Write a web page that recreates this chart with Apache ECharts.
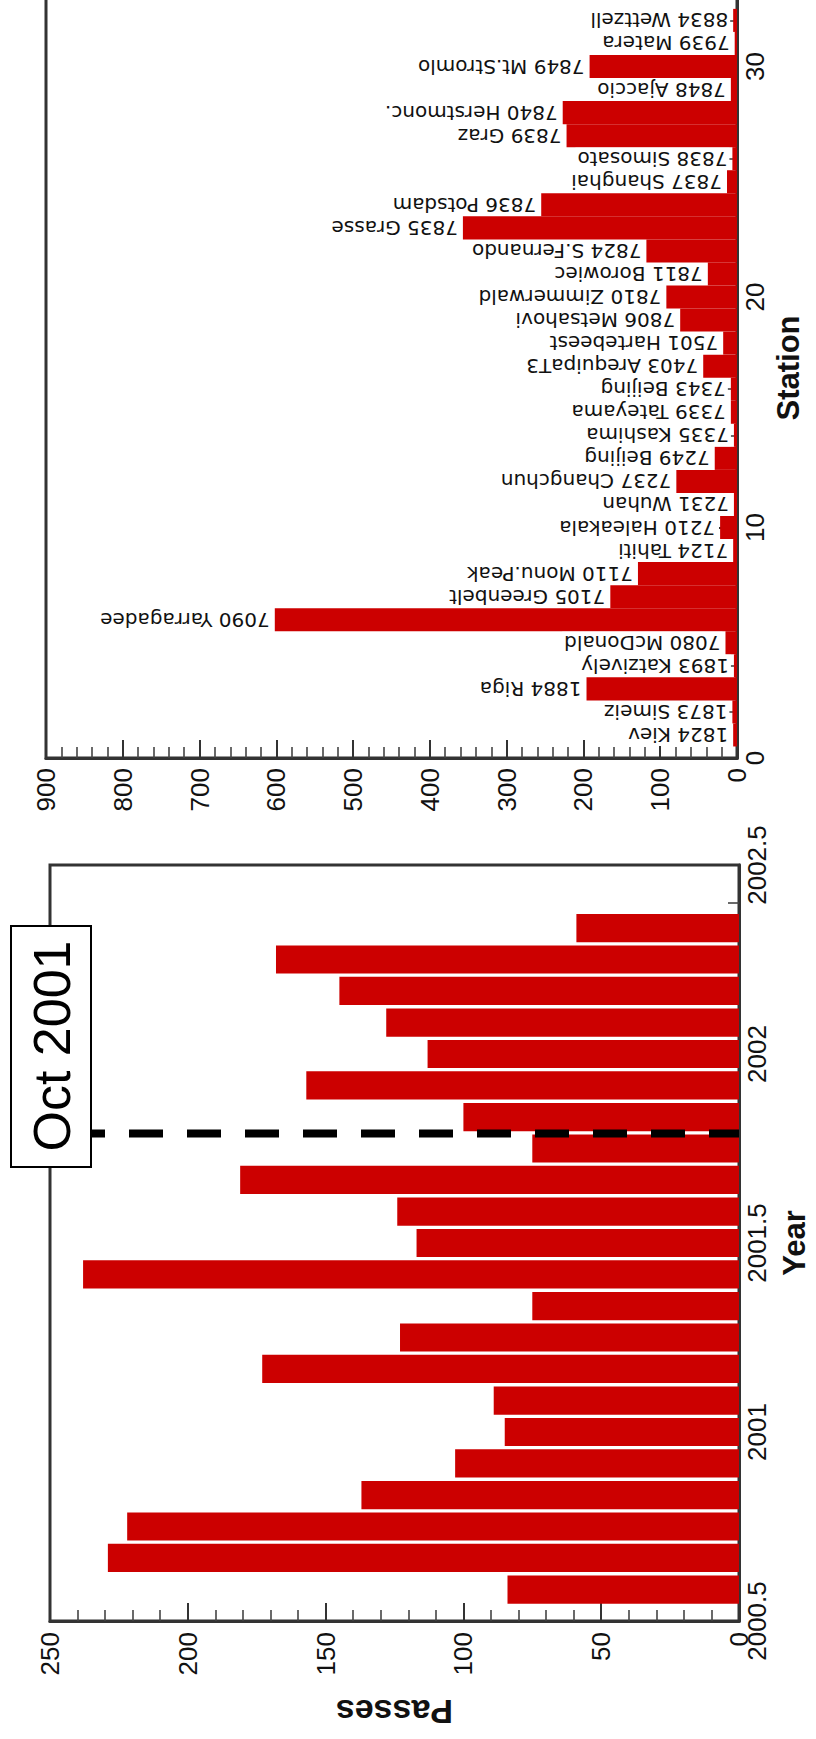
<!DOCTYPE html>
<html>
<head>
<meta charset="utf-8">
<style>
html,body{margin:0;padding:0;background:#fff;}
#c{width:816px;height:1739px;}
</style>
<script src="https://cdn.jsdelivr.net/npm/echarts@6/dist/echarts.min.js"></script>
</head>
<body>
<div id="c"></div>
<script>
// ---- Left panel: passes per month (Year axis) ----
const yearPos = [2000.583, 2000.667, 2000.750, 2000.833, 2000.917, 2001.000, 2001.083, 2001.167,
                 2001.250, 2001.333, 2001.417, 2001.500, 2001.583, 2001.667, 2001.750, 2001.833,
                 2001.917, 2002.000, 2002.083, 2002.167, 2002.250, 2002.333];
const monthlyPasses = [84, 229, 222, 137, 103, 85, 89, 173, 123, 75, 238, 117,
                       124, 181, 75, 100, 157, 113, 128, 145, 168, 59];
const eventYear = 2001.79;
const eventLabel = 'Oct 2001';

// ---- Right panel: passes per station ----
const stationIdx = [1,2,3,4,5,6,7,8,9,10,11,12,13,14,15,16,17,18,19,20,21,22,23,24,25,26,27,28,29,30,31,32];
const stationNames = ['1824 Kiev','1873 Simeiz','1884 Riga','1893 Katzively','7080 McDonald','7090 Yarragadee',
  '7105 Greenbelt','7110 Monu.Peak','7124 Tahiti','7210 Haleakala','7231 Wuhan','7237 Changchun',
  '7249 Beijing','7335 Kashima','7339 Tateyama','7343 Beijing','7403 ArequipaT3','7501 Hartebeest',
  '7806 Metsahovi','7810 Zimmerwald','7811 Borowiec','7824 S.Fernando','7835 Grasse','7836 Potsdam',
  '7837 Shanghai','7838 Simosato','7839 Graz','7840 Herstmonc.','7848 Ajaccio','7849 Mt.Stromlo',
  '7939 Matera','8834 Wettzell'];
const stationPasses = [5, 6, 196, 4, 15, 602, 165, 129, 5, 22, 4, 79, 29, 4, 8, 8, 44, 18,
                       74, 92, 38, 118, 357, 255, 13, 6, 222, 227, 8, 192, 3, 5];

const RED = '#cc0000';
const FONT = '"Liberation Sans", Arial, sans-serif';
const AX = '#333';

function valAxis(extra, labelMargin, fmt) {
  return Object.assign({
    type: 'value',
    splitLine: {show: false},
    axisLine: {show: true, onZero: false, lineStyle: {color: AX, width: 3}},
    axisTick: {show: true, inside: true, length: 18, lineStyle: {color: AX, width: 2}},
    minorTick: {show: true, splitNumber: 5, length: 11, lineStyle: {color: '#444', width: 1.6}},
    axisLabel: {rotate: 90, margin: labelMargin, fontSize: 26, fontFamily: FONT, color: '#111',
                showMinLabel: true, showMaxLabel: true, formatter: fmt || (v => String(v))}
  }, extra);
}

const chart = echarts.init(document.getElementById('c'), null, {renderer: 'svg'});

chart.setOption({
  animation: false,
  backgroundColor: '#fff',
  grid: [
    {left: 50, right: 77, top: 865, bottom: 118, outerBoundsMode: 'none', containLabel: false,
     show: true, borderColor: AX, borderWidth: 3, backgroundColor: 'transparent'},
    {left: 46, right: 79, bottom: 981, height: 922, outerBoundsMode: 'none', containLabel: false,
     show: true, borderColor: AX, borderWidth: 3, backgroundColor: 'transparent'}
  ],
  xAxis: [
    valAxis({gridIndex: 0, min: 0, max: 250, interval: 50, inverse: true, position: 'bottom',
             name: 'Passes', nameLocation: 'middle', nameRotate: 180, nameGap: 74,
             nameTextStyle: {fontSize: 34, fontWeight: 'bold', fontFamily: FONT, color: '#111'}}, 11),
    valAxis({gridIndex: 1, min: 0, max: 900, interval: 100, inverse: true, position: 'bottom'}, 10)
  ],
  yAxis: [
    valAxis({gridIndex: 0, min: 2000.5, max: 2002.5, interval: 0.5, position: 'right',
             name: 'Year', nameLocation: 'middle', nameRotate: 90, nameGap: 40,
             nameTextStyle: {fontSize: 31, fontWeight: 'bold', fontFamily: FONT, color: '#111'}}, 5),
    valAxis({gridIndex: 1, min: 0, max: 40, interval: 10, position: 'right'}, 5,
            v => (v <= 30 ? String(v) : ''))
  ],
  series: [
    {
      type: 'custom', xAxisIndex: 0, yAxisIndex: 0, z: 2,
      encode: {x: 0, y: 1},
      data: yearPos.map((y, i) => [monthlyPasses[i], y]),
      renderItem: (params, api) => {
        const v = api.value(0), y = api.value(1);
        const a = api.coord([0, y]), b = api.coord([v, y]);
        const h = Math.abs(api.size([0, 1 / 12])[1]) * 0.89;
        return {type: 'rect', shape: {x: Math.min(a[0], b[0]), y: a[1] - h / 2, width: Math.abs(a[0] - b[0]), height: h},
                style: {fill: RED}};
      }
    },
    {
      type: 'line', xAxisIndex: 0, yAxisIndex: 0, z: 5, silent: true, symbol: 'none',
      data: [[0, eventYear], [250, eventYear]],
      lineStyle: {color: '#000', width: 8, type: [34, 24], dashOffset: 4, cap: 'butt'}
    },
    {
      type: 'custom', xAxisIndex: 1, yAxisIndex: 1, z: 2,
      encode: {x: 0, y: 1},
      data: stationIdx.map((s, i) => [stationPasses[i], s]),
      renderItem: (params, api) => {
        const v = api.value(0), s = api.value(1);
        const a = api.coord([0, s]), b = api.coord([v, s]);
        const h = Math.abs(api.size([0, 1])[1]);
        return {type: 'rect', shape: {x: Math.min(a[0], b[0]), y: a[1] - h / 2, width: Math.abs(a[0] - b[0]), height: h},
                style: {fill: RED}};
      }
    },
    {
      type: 'custom', xAxisIndex: 1, yAxisIndex: 1, z: 4,
      encode: {x: 0, y: 1},
      data: stationIdx.map((s, i) => [stationPasses[i], s]),
      renderItem: (params, api) => {
        const v = api.value(0), s = api.value(1);
        const b = api.coord([v, s]);
        return {type: 'text', x: b[0] - 3, y: b[1], rotation: Math.PI,
                style: {text: stationNames[params.dataIndex], align: 'left', verticalAlign: 'middle',
                        fontSize: 20, fontFamily: '"DejaVu Sans", sans-serif', fill: '#111',
                        backgroundColor: '#fff', padding: [1, 2, 1, 2]}};
      }
    }
  ],
  graphic: {elements: [
    {type: 'rect', z: 100, shape: {x: 11, y: 926, width: 80, height: 241},
     style: {fill: '#fff', stroke: '#000', lineWidth: 2}},
    {type: 'text', z: 101, x: 52, y: 1046, rotation: Math.PI / 2,
     style: {text: eventLabel, align: 'center', verticalAlign: 'middle', fontSize: 52, fontFamily: FONT, fill: '#000'}},
    {type: 'text', z: 101, x: 788, y: 368, rotation: Math.PI / 2,
     style: {text: 'Station', align: 'center', verticalAlign: 'middle', fontSize: 31, fontWeight: 'bold', fontFamily: FONT, fill: '#111'}}
  ]}
});
</script>
</body>
</html>
